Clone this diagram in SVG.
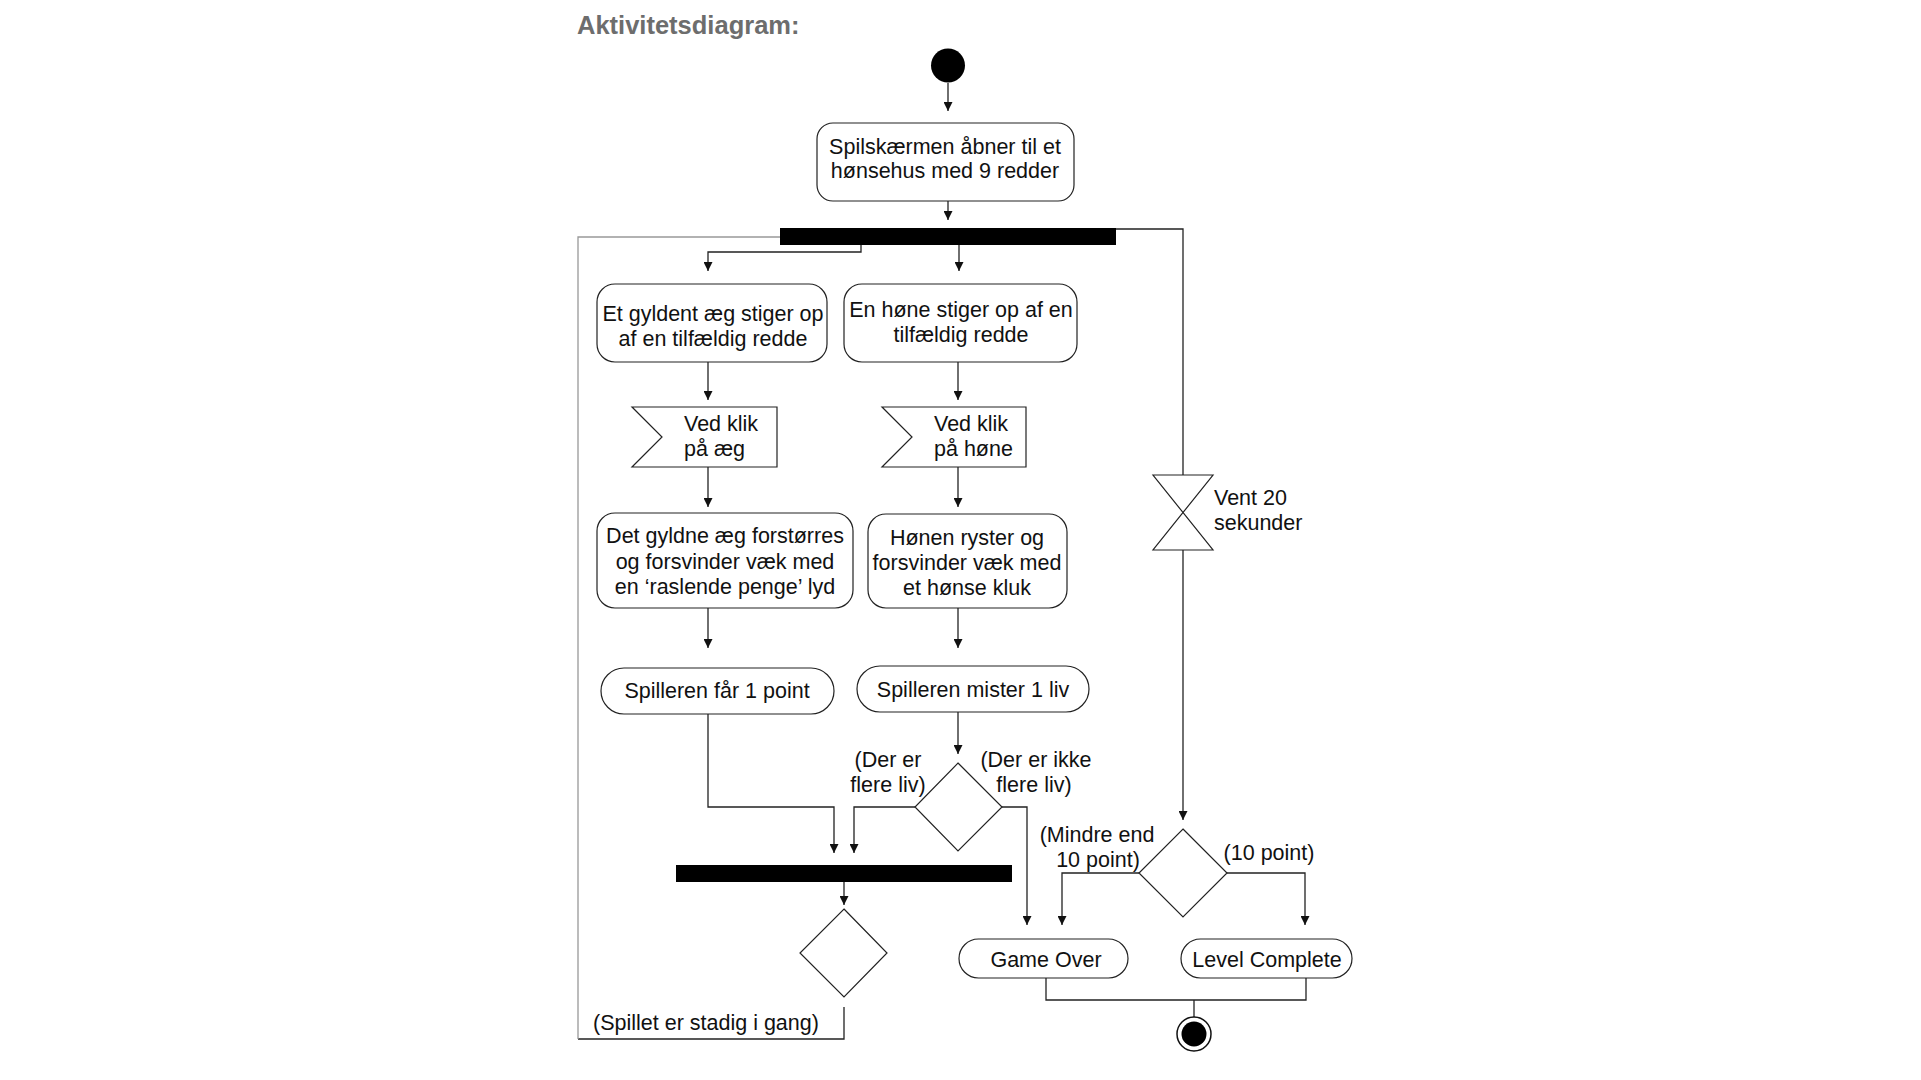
<svg xmlns="http://www.w3.org/2000/svg" width="1921" height="1080" viewBox="0 0 1921 1080">
<defs>
<marker id="arr" markerUnits="userSpaceOnUse" markerWidth="9" markerHeight="9" refX="9" refY="4.5" orient="auto">
<path d="M0,0 L9,4.5 L0,9 z" fill="#111"/>
</marker>
<style>
.t{font-family:"Liberation Sans",Arial,sans-serif;font-size:21.5px;fill:#111}
.c{text-anchor:middle}
.box{fill:#fff;stroke:#222;stroke-width:1.2}
.ln{fill:none;stroke:#222;stroke-width:1.3}
.gr{fill:none;stroke:#999;stroke-width:1.3}
.bar{fill:#000}
</style>
</defs>
<rect width="1921" height="1080" fill="#fff"/>
<text x="577" y="34" font-family="'Liberation Sans',Arial,sans-serif" font-size="25.5" font-weight="bold" fill="#6d6d6d">Aktivitetsdiagram:</text>

<g id="connectors">
<line class="ln" x1="948" y1="83" x2="948" y2="111" marker-end="url(#arr)"/>
<line class="ln" x1="948" y1="201" x2="948" y2="220" marker-end="url(#arr)"/>
<polyline class="ln" points="861,245 861,252 708,252 708,271" marker-end="url(#arr)"/>
<line class="ln" x1="959" y1="245" x2="959" y2="271" marker-end="url(#arr)"/>
<polyline class="ln" points="1116,229 1183,229 1183,475"/>
<line class="ln" x1="1183" y1="550" x2="1183" y2="820" marker-end="url(#arr)"/>
<line class="ln" x1="708" y1="362" x2="708" y2="400" marker-end="url(#arr)"/>
<line class="ln" x1="958" y1="362" x2="958" y2="400" marker-end="url(#arr)"/>
<line class="ln" x1="708" y1="467" x2="708" y2="507" marker-end="url(#arr)"/>
<line class="ln" x1="958" y1="467" x2="958" y2="507" marker-end="url(#arr)"/>
<line class="ln" x1="708" y1="608" x2="708" y2="648" marker-end="url(#arr)"/>
<line class="ln" x1="958" y1="608" x2="958" y2="648" marker-end="url(#arr)"/>
<polyline class="ln" points="708,714 708,807 834,807 834,853" marker-end="url(#arr)"/>
<line class="ln" x1="958" y1="712" x2="958" y2="754" marker-end="url(#arr)"/>
<polyline class="ln" points="915,807 854,807 854,853" marker-end="url(#arr)"/>
<polyline class="ln" points="1002,807 1027,807 1027,925" marker-end="url(#arr)"/>
<line class="ln" x1="844" y1="882" x2="844" y2="905" marker-end="url(#arr)"/>
<polyline class="ln" points="844,1007 844,1039 578,1039"/>
<polyline class="gr" points="578,1039 578,237 780,237"/>
<polyline class="ln" points="1139,873 1062,873 1062,925" marker-end="url(#arr)"/>
<polyline class="ln" points="1227,873 1305,873 1305,925" marker-end="url(#arr)"/>
<polyline class="ln" points="1046,978 1046,1000 1306,1000 1306,978"/>
<line class="ln" x1="1194" y1="1000" x2="1194" y2="1017"/>
<text class="t c" x="888" y="767">(Der er</text>
<text class="t c" x="888" y="792">flere liv)</text>
<text class="t c" x="1036" y="767">(Der er ikke</text>
<text class="t c" x="1034" y="792">flere liv)</text>
<text class="t c" x="1097" y="842">(Mindre end</text>
<text class="t c" x="1098" y="867">10 point)</text>
<text class="t c" x="1269" y="860">(10 point)</text>
<text class="t" x="593" y="1030">(Spillet er stadig i gang)</text>
</g>

<g id="start"><circle cx="948" cy="65.5" r="17" fill="#000"/></g>

<g id="box-start">
<rect class="box" x="817" y="123" width="257" height="78" rx="16"/>
<text class="t c" x="945" y="154">Spilskærmen åbner til et</text>
<text class="t c" x="945" y="178">hønsehus med 9 redder</text>
</g>

<g id="fork1"><rect class="bar" x="780" y="228" width="336" height="17"/></g>

<g id="egg-rise">
<rect class="box" x="597" y="284" width="230" height="78" rx="18"/>
<text class="t c" x="713" y="321">Et gyldent æg stiger op</text>
<text class="t c" x="713" y="346">af en tilfældig redde</text>
</g>

<g id="hen-rise">
<rect class="box" x="844" y="284" width="233" height="78" rx="18"/>
<text class="t c" x="961" y="317">En høne stiger op af en</text>
<text class="t c" x="961" y="342">tilfældig redde</text>
</g>

<g id="click-egg">
<polygon class="box" points="632,407 777,407 777,467 632,467 662,437"/>
<text class="t" x="684" y="431">Ved klik</text>
<text class="t" x="684" y="456">på æg</text>
</g>

<g id="click-hen">
<polygon class="box" points="882,407 1026,407 1026,467 882,467 912,437"/>
<text class="t" x="934" y="431">Ved klik</text>
<text class="t" x="934" y="456">på høne</text>
</g>

<g id="wait">
<polygon class="box" points="1153,475 1213,475 1153,550 1213,550"/>
<text class="t" x="1214" y="505">Vent 20</text>
<text class="t" x="1214" y="530">sekunder</text>
</g>

<g id="egg-vanish">
<rect class="box" x="597" y="513" width="256" height="95" rx="18"/>
<text class="t c" x="725" y="543">Det gyldne æg forstørres</text>
<text class="t c" x="725" y="568.5">og forsvinder væk med</text>
<text class="t c" x="725" y="594">en ‘raslende penge’ lyd</text>
</g>

<g id="hen-vanish">
<rect class="box" x="868" y="514" width="199" height="94" rx="18"/>
<text class="t c" x="967" y="545">Hønen ryster og</text>
<text class="t c" x="967" y="570">forsvinder væk med</text>
<text class="t c" x="967" y="595">et hønse kluk</text>
</g>

<g id="point">
<rect class="box" x="601" y="668" width="233" height="46" rx="23"/>
<text class="t c" x="717" y="698">Spilleren får 1 point</text>
</g>

<g id="life">
<rect class="box" x="857" y="666" width="232" height="46" rx="23"/>
<text class="t c" x="973" y="697">Spilleren mister 1 liv</text>
</g>

<g id="decision-lives"><polygon class="box" points="958,763 1002,807 958,851 915,807"/></g>

<g id="join"><rect class="bar" x="676" y="865" width="336" height="17"/></g>

<g id="decision-loop"><polygon class="box" points="844,909 887,953 844,997 800,953"/></g>

<g id="decision-points"><polygon class="box" points="1183,829 1227,873 1183,917 1139,873"/></g>

<g id="game-over">
<rect class="box" x="959" y="939" width="169" height="39" rx="19.5"/>
<text class="t c" x="1046" y="967">Game Over</text>
</g>

<g id="level-complete">
<rect class="box" x="1181" y="939" width="171" height="39" rx="19.5"/>
<text class="t c" x="1267" y="967">Level Complete</text>
</g>

<g id="end">
<circle cx="1194" cy="1034" r="17" fill="#fff" stroke="#111" stroke-width="1.5"/>
<circle cx="1194" cy="1034" r="12.5" fill="#000"/>
</g>
</svg>
